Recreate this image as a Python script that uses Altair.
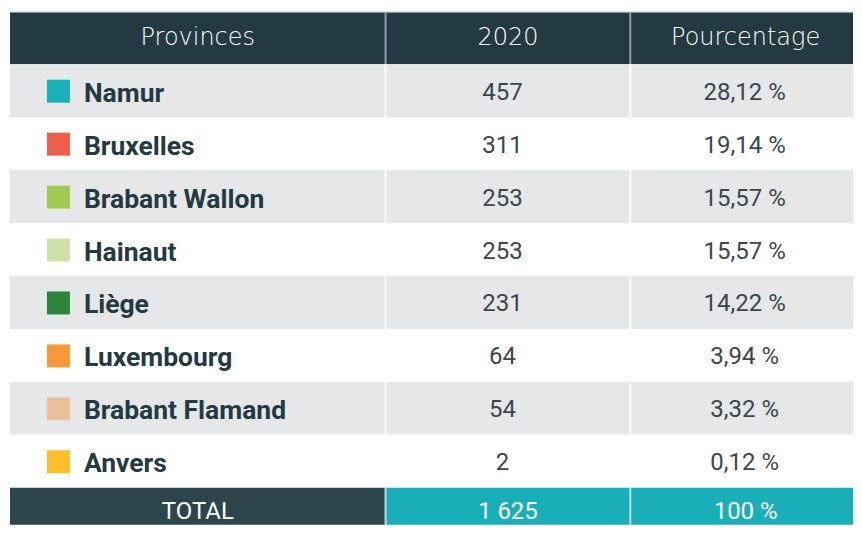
import altair as alt
import pandas as pd

# ---- data ----
provinces = ["Namur", "Bruxelles", "Brabant Wallon", "Hainaut", "Liège",
             "Luxembourg", "Brabant Flamand", "Anvers"]
values_2020 = [457, 311, 253, 253, 231, 64, 54, 2]
percent_labels = ["28,12 %", "19,14 %", "15,57 %", "15,57 %", "14,22 %",
                  "3,94 %", "3,32 %", "0,12 %"]
swatch_colors = ["#1ab0b8", "#ee5f4b", "#a0cb52", "#cfe2aa", "#2d843f",
                 "#f7983a", "#e8c19b", "#fdbe2c"]
headers = ["Provinces", "2020", "Pourcentage"]
total_labels = ["TOTAL", "1 625", "100 %"]

# ---- layout (page pixels) ----
col_edges = [10, 386, 631, 862]
header_top, header_bot = 12, 64
row_h = 53
total_top = header_bot + row_h * len(provinces)
total_bot = 533
view_right = 854
view_bot = 525

HEADER_BG = "#243a42"
GRAY_BG = "#e6e7e9"
TOTAL_LEFT = "#2c464c"
TEAL = "#1aafb8"
DARK_TEXT = "#243a42"
NUM_TEXT = "#3a474c"

xs = alt.Scale(domain=[8, view_right], nice=False, zero=False)
ys = alt.Scale(domain=[8, view_bot], nice=False, zero=False, reverse=True)

right = min(col_edges[3], view_right)
bottom = min(total_bot, view_bot)

# backgrounds
bg = []
for c in range(3):
    bg.append(dict(x=col_edges[c], x2=min(col_edges[c + 1], right), y=header_top, y2=header_bot, color=HEADER_BG))
for i in range(len(provinces)):
    top = header_bot + i * row_h
    bg.append(dict(x=col_edges[0], x2=right, y=top, y2=top + row_h,
                   color=GRAY_BG if i % 2 == 0 else "#ffffff"))
bg.append(dict(x=col_edges[0], x2=col_edges[1], y=total_top, y2=bottom, color=TOTAL_LEFT))
bg.append(dict(x=col_edges[1], x2=right, y=total_top, y2=bottom, color=TEAL))
bg_df = pd.DataFrame(bg)

rules = []
for e in col_edges[1:3]:
    rules.append(dict(x=e, y=header_top, y2=header_bot, color="#8fa0a4"))
    rules.append(dict(x=e, y=header_bot, y2=total_top, color="#ffffff"))
    rules.append(dict(x=e, y=total_top, y2=bottom, color="#b9dde0"))
rules_df = pd.DataFrame(rules)
top_line = pd.DataFrame([dict(x=col_edges[0], x2=right, y=header_top)])

centers = [(col_edges[c] + col_edges[c + 1]) / 2 for c in range(3)]
row_mid = [header_bot + i * row_h + row_h / 2 for i in range(len(provinces))]

sw_df = pd.DataFrame(dict(x=[47] * 8, x2=[70] * 8,
                          y=[m - 11 for m in row_mid], y2=[m + 12 for m in row_mid],
                          color=swatch_colors))
hdr_df = pd.DataFrame(dict(x=centers, y=[(header_top + header_bot) / 2] * 3, t=headers))
name_df = pd.DataFrame(dict(x=[84] * 8, y=[m + 3 for m in row_mid], t=provinces))
num_df = pd.DataFrame(dict(x=[centers[1] - 5.5] * 8 + [centers[2] - 1] * 8,
                           y=[m + 2 for m in row_mid] * 2,
                           t=[str(v) for v in values_2020] + percent_labels))
tot_df = pd.DataFrame(dict(x=centers, y=[(total_top + total_bot) / 2 + 2] * 3, t=total_labels))

X = lambda f="x": alt.X(f"{f}:Q", scale=xs, axis=None)
Y = lambda f="y": alt.Y(f"{f}:Q", scale=ys, axis=None)

bg_layer = alt.Chart(bg_df).mark_rect(strokeWidth=0).encode(
    x=X(), x2="x2:Q", y=Y(), y2="y2:Q", color=alt.Color("color:N", scale=None))
rule_layer = alt.Chart(rules_df).mark_rule(strokeWidth=2).encode(
    x=X(), y=Y(), y2="y2:Q", color=alt.Color("color:N", scale=None))
top_layer = alt.Chart(top_line).mark_rule(strokeWidth=1, color="#8fa0a4").encode(
    x=X(), x2="x2:Q", y=Y())
sw_layer = alt.Chart(sw_df).mark_rect(strokeWidth=0).encode(
    x=X(), x2="x2:Q", y=Y(), y2="y2:Q", color=alt.Color("color:N", scale=None))
hdr_layer = alt.Chart(hdr_df).mark_text(font="DejaVu Sans", fontWeight=200, fontSize=24,
                                        color="#ffffff", align="center", baseline="middle").encode(
    x=X(), y=Y(), text="t:N")
name_layer = alt.Chart(name_df).mark_text(font="Roboto", fontWeight="bold", fontSize=26.5,
                                          color=DARK_TEXT, align="left", baseline="middle").encode(
    x=X(), y=Y(), text="t:N")
num_layer = alt.Chart(num_df).mark_text(font="Roboto", fontSize=24, color=NUM_TEXT,
                                        align="center", baseline="middle").encode(
    x=X(), y=Y(), text="t:N")
tot_layer = alt.Chart(tot_df).mark_text(font="Roboto", fontSize=24, color="#ffffff",
                                        align="center", baseline="middle").encode(
    x=X(), y=Y(), text="t:N")

chart = alt.layer(bg_layer, rule_layer, top_layer, sw_layer, hdr_layer, name_layer,
                  num_layer, tot_layer).properties(
    width=view_right - 8, height=view_bot - 8, padding=0
).configure_view(stroke=None)

chart.save("out.html", embed_options={"renderer": "svg", "actions": False})
